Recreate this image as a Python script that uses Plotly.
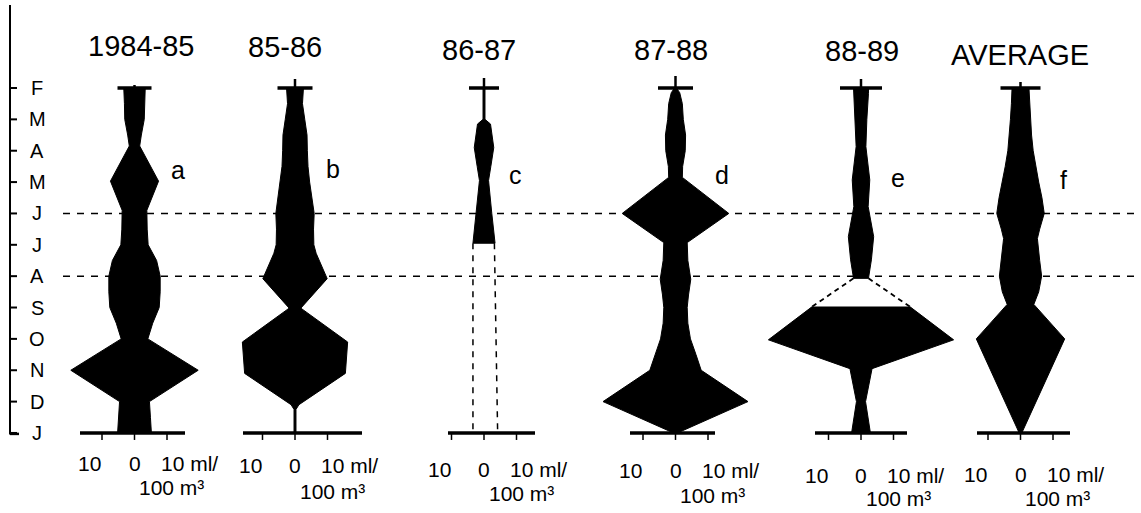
import plotly.graph_objects as go

# ---------------- data (half-width of each kite, ml / 100 m3) ----------------
months = ["F", "M", "A", "M", "J", "J", "A", "S", "O", "N", "D", "J"]
seasons = ["1984-85", "85-86", "86-87", "87-88", "88-89", "AVERAGE"]
panel_letters = ["a", "b", "c", "d", "e", "f"]

# positions are month indices (0 = Feb ... 11 = Jan)
a_pos = [0, 0.5, 1, 1.5, 1.85, 2.97, 3.9, 4.5, 5, 5.5, 6, 6.5, 7, 7.5, 8.0, 9.0, 10.0, 10.5, 11]
a_val = [3.3, 3.1, 3.0, 2.1, 1.6, 7.4, 3.8, 3.9, 4.2, 6.8, 7.9, 7.9, 7.6, 5.6, 4.1, 19.6, 4.6, 4.9, 5.2]

b_pos = [0, 0.5, 1, 1.5, 2, 2.5, 3, 3.5, 4, 4.5, 5, 5.27, 6.08, 7.02, 8.1, 9.1, 10.1, 10.25, 11]
b_val = [2.6, 2.3, 3.0, 3.7, 3.8, 4.0, 4.5, 5.3, 5.9, 5.7, 5.8, 6.5, 9.9, 1.8, 16.2, 15.5, 1.2, 0.3, 0.3]

c_pos = [0, 1.0, 1.15, 1.9, 2.5, 2.95, 4.0, 4.95]
c_val = [0.3, 0.3, 2.0, 3.0, 2.1, 1.4, 2.4, 3.4]
c_gap_pos = [4.95, 11]          # no data: dashed outline
c_gap_left = [3.4, 3.4]
c_gap_right = [3.2, 4.2]

d_pos = [0, 0.15, 0.5, 1, 1.5, 2, 2.5, 2.85, 4.0, 4.93, 5.5, 6.1, 6.6, 7, 7.5, 8, 8.5, 9.0, 10.0, 11]
d_val = [0.3, 1.3, 2.1, 2.4, 3.1, 3.0, 2.2, 2.1, 16.4, 3.6, 3.8, 4.7, 4.0, 3.6, 3.8, 4.6, 6.3, 7.9, 22.3, 0.6]

e_pos = [0, 0.17, 1.0, 1.87, 2.93, 3.78, 4.74, 5.48, 6.07]
e_val = [2.3, 2.3, 1.8, 1.5, 2.7, 2.2, 3.9, 3.2, 2.3]
e_low_pos = [6.97, 8.03, 8.95, 10.0, 11]
e_low_val = [15.0, 28.5, 3.4, 1.4, 2.9]
e_gap_pos = [6.07, 6.97]        # no data: dashed outline
e_gap_val = [2.3, 15.0]

f_pos = [0, 0.5, 1, 1.5, 2, 2.5, 3, 3.5, 4.0, 4.5, 4.8, 5.5, 6.0, 6.5, 6.9, 8.0, 11]
f_val = [2.6, 2.8, 3.1, 3.4, 3.9, 4.7, 5.6, 6.6, 7.3, 5.9, 5.2, 5.9, 6.5, 5.6, 4.1, 13.6, 0.4]

scale_ticks = [-10, 0, 10]
unit_line1 = "ml/"
unit_line2 = "100 m³"

# ---------------- layout constants ----------------
W, H = 1141, 513
PX_PER_ML = 3.25
MONTH_PX = 31.36
TOP_MONTH_PX = 88
FONT = "Liberation Sans, Arial, Helvetica, sans-serif"

centers_px = [134.5, 295, 484, 675.5, 861, 1020.5]
base_ext_px = [(-54.5, 50.5), (-52, 67), (-36, 51), (-45.5, 39.5), (-46, 46), (-43.5, 49.5)]
topbar_half_px = [17, 17.5, 15, 17.5, 21, 20]
topstem_px = [3, 9, 10, 12, 9, 6]
title_xy = [(141, 46), (285, 47), (479, 50), (671, 50), (862, 51), (1020, 55)]
letter_xy = [(178, 170), (333, 169), (515, 175), (722, 175), (898, 178), (1063, 180)]
row1_y = [463, 465, 469, 470, 475, 474]
row2_y = [487, 491, 493, 495, 498, 498]


def xm(px):
    return px / PX_PER_ML


def yi(py):
    return (py - TOP_MONTH_PX) / MONTH_PX


centers = [xm(c) for c in centers_px]

fig = go.Figure()


def add_line(xs, ys, width=1.5, dash=None):
    fig.add_trace(go.Scatter(x=xs, y=ys, mode="lines",
                             line=dict(color="black", width=width, dash=dash),
                             hoverinfo="skip", showlegend=False))


def add_kite(cx, pos, val):
    xs = [cx + v for v in val] + [cx - v for v in reversed(val)]
    ys = list(pos) + list(reversed(pos))
    fig.add_trace(go.Scatter(x=xs, y=ys, mode="lines", fill="toself",
                             fillcolor="black", line=dict(color="black", width=1),
                             hoverinfo="skip", showlegend=False))


# horizontal dashed guide lines (behind kites)
for m in [4, 6]:
    fig.add_shape(type="line", xref="x", yref="y", x0=xm(63), x1=xm(W), y0=m, y1=m,
                  line=dict(color="black", width=1.5, dash="7px,7px"), layer="below")

kites = [(a_pos, a_val), (b_pos, b_val), (c_pos, c_val), (d_pos, d_val),
         (e_pos, e_val), (f_pos, f_val)]
for cx, (p, v) in zip(centers, kites):
    add_kite(cx, p, v)
add_kite(centers[4], e_low_pos, e_low_val)

# missing-data dashed outlines
cc = centers[2]
add_line([cc - v for v in c_gap_left], c_gap_pos, width=1.5, dash="6px,6px")
add_line([cc + v for v in c_gap_right], c_gap_pos, width=1.5, dash="6px,6px")
ce = centers[4]
add_line([ce - v for v in e_gap_val], e_gap_pos, width=1.8, dash="5px,4px")
add_line([ce + v for v in e_gap_val], e_gap_pos, width=1.8, dash="5px,4px")

# top bars and baselines with scale ticks
for i, cx in enumerate(centers):
    hb = xm(topbar_half_px[i])
    add_line([cx - hb, cx + hb], [0, 0], width=3.5)
    add_line([cx, cx], [0, -topstem_px[i] / MONTH_PX], width=2.5)
    l, r = base_ext_px[i]
    add_line([cx + xm(l), cx + xm(r)], [11, 11], width=3.5)
    for t in scale_ticks:
        add_line([cx + t, cx + t], [11, 11 + 7 / MONTH_PX], width=1.5)

# left month axis
add_line([xm(10), xm(10)], [yi(5), 11.05], width=2)
for k in range(len(months)):
    add_line([xm(10), xm(17)], [k, k], width=2)
add_line([xm(10), xm(19)], [11.03, 11.03], width=2.5)

ann = []
for k, m in enumerate(months):
    ann.append(dict(x=xm(37), y=k, text=m, font=dict(size=20)))
for i, cx in enumerate(centers):
    tx, ty = title_xy[i]
    ann.append(dict(x=xm(tx), y=yi(ty), text=seasons[i], font=dict(size=29)))
    lx, ly = letter_xy[i]
    ann.append(dict(x=xm(lx), y=yi(ly), text=panel_letters[i], font=dict(size=25)))
    y1 = yi(row1_y[i])
    y2 = yi(row2_y[i])
    ann.append(dict(x=cx - xm(45), y=y1, text=str(abs(scale_ticks[0])), font=dict(size=21)))
    ann.append(dict(x=cx, y=y1, text=str(scale_ticks[1]), font=dict(size=21)))
    ann.append(dict(x=cx + xm(24), y=y1, text=f"{scale_ticks[2]} {unit_line1}",
                    font=dict(size=21), xanchor="left"))
    ann.append(dict(x=cx + xm(37), y=y2, text=unit_line2, font=dict(size=21)))

for a in ann:
    a.setdefault("xanchor", "center")
    a.update(xref="x", yref="y", yanchor="middle", showarrow=False)
    a["font"].update(family=FONT, color="black")

fig.update_layout(
    width=W, height=H,
    margin=dict(l=0, r=0, t=0, b=0),
    paper_bgcolor="white", plot_bgcolor="white",
    xaxis=dict(range=[0, xm(W)], visible=False, fixedrange=True),
    yaxis=dict(range=[yi(H), yi(0)], visible=False, fixedrange=True),
    annotations=ann,
    font=dict(family=FONT, color="black"),
)

fig.write_html("out.html")
